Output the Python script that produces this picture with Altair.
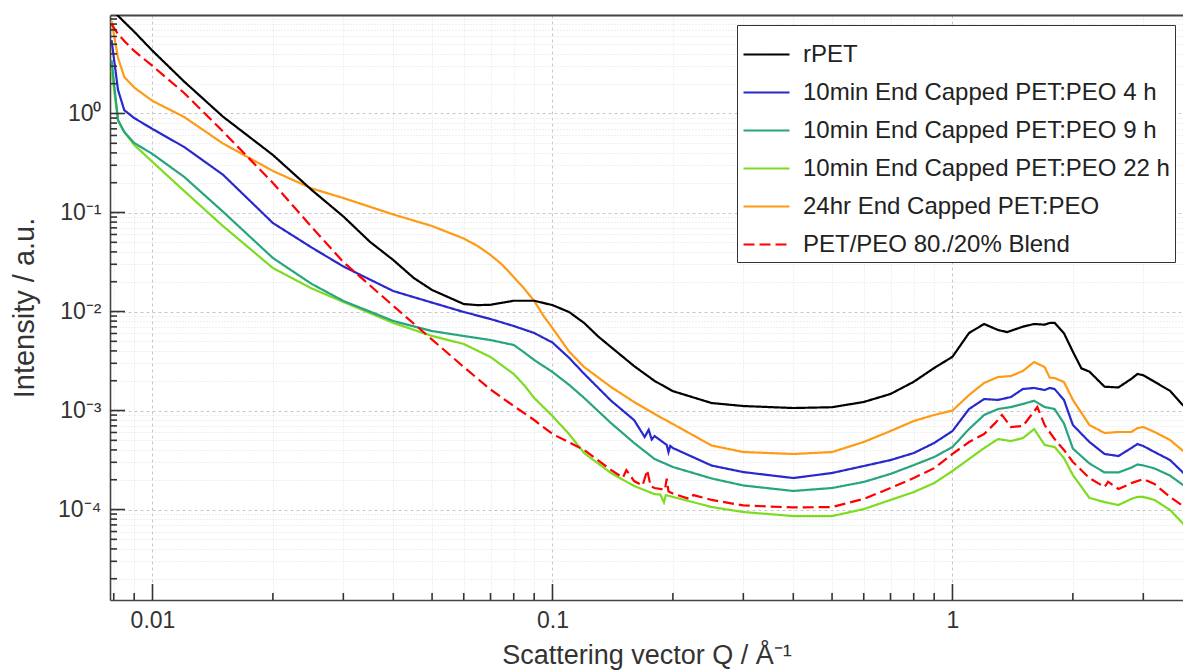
import altair as alt
import pandas as pd

SERIES = [
    "rPET",
    "10min End Capped PET:PEO 4 h",
    "10min End Capped PET:PEO 9 h",
    "10min End Capped PET:PEO 22 h",
    "24hr End Capped PET:PEO",
    "PET/PEO 80./20% Blend",
]
COLORS = ["#000000", "#2828cc", "#28a47f", "#7ddc1f", "#ff9a14", "#ff0000"]
DASHES = [[1, 0], [1, 0], [1, 0], [1, 0], [1, 0], [11, 5]]
WIDTHS = [2.2, 2.2, 2.2, 2.2, 2.2, 3.4]

# Q values (1/Angstrom)
q_black = [0.0079, 0.0082, 0.0085, 0.009, 0.01, 0.012, 0.015, 0.02, 0.025, 0.03,
           0.035, 0.04, 0.045, 0.05, 0.06, 0.065, 0.07, 0.08, 0.09, 0.1,
           0.11, 0.12, 0.13, 0.14, 0.16, 0.18, 0.2, 0.25, 0.3, 0.4,
           0.5, 0.6, 0.7, 0.8, 0.9, 1.0, 1.1, 1.2, 1.3, 1.37,
           1.5, 1.6, 1.7, 1.75, 1.8, 1.9, 2.0, 2.1, 2.2, 2.4,
           2.6, 2.8, 2.9, 3.0, 3.2, 3.5, 3.8]
i_black = [11.1, 9.7, 8.4, 6.7, 4.3, 2.1, 0.93, 0.381, 0.169, 0.0912,
           0.0504, 0.0331, 0.0218, 0.0165, 0.0119, 0.0116, 0.0117, 0.01285, 0.01285, 0.0116,
           0.00989, 0.00766, 0.00561, 0.00438, 0.00281, 0.00199, 0.00157, 0.00119, 0.00111, 0.00106,
           0.00108, 0.00122, 0.00147, 0.00195, 0.00269, 0.00349, 0.00607, 0.00748, 0.0065, 0.0062,
           0.00703, 0.00748, 0.00736, 0.00766, 0.0077, 0.00603, 0.00393, 0.00267, 0.00247, 0.00174,
           0.00171, 0.00209, 0.00234, 0.00227, 0.00195, 0.00158, 0.00109]

q_common = [0.0079, 0.0082, 0.0085, 0.009, 0.01, 0.012, 0.015, 0.02, 0.025, 0.03,
            0.04, 0.05, 0.06, 0.07, 0.08, 0.09, 0.1, 0.12, 0.14, 0.16,
            0.18, 0.2, 0.25, 0.3, 0.4, 0.5, 0.6, 0.7, 0.8, 0.9,
            1.0, 1.1, 1.2, 1.3, 1.4, 1.5, 1.6, 1.7, 1.75, 1.8,
            1.9, 2.0, 2.2, 2.4, 2.6, 2.8, 2.9, 3.0, 3.2, 3.5, 3.8]
i_4h = [5.5, 1.73, 1.08, 0.90, 0.697, 0.459, 0.241, 0.0783, 0.0443, 0.0285,
        0.0161, 0.0123, 0.00989, 0.0084, 0.00714, 0.00607, 0.00486, 0.00235, 0.00126, 0.0008,
        0.000552, 0.000418, 0.000278, 0.000239, 0.000208, 0.000234, 0.000275, 0.000316, 0.000372, 0.00047,
        0.000621, 0.001035, 0.001306, 0.00128, 0.001368, 0.00165, 0.00169, 0.00161, 0.00169, 0.00165,
        0.00128, 0.000714, 0.000481, 0.000364, 0.000347, 0.000418, 0.000459, 0.000438, 0.000381, 0.000316, 0.000229]
i_9h = [3.47, 0.86, 0.65, 0.504, 0.39, 0.229, 0.102, 0.0347, 0.019, 0.0128,
        0.00802, 0.00635, 0.00566, 0.00515, 0.00459, 0.00324, 0.00245, 0.00134, 0.000748, 0.00047,
        0.000324, 0.000269, 0.000206, 0.000175, 0.000154, 0.000165, 0.00019, 0.000229, 0.000281, 0.000339,
        0.000428, 0.00065, 0.000902, 0.001035, 0.001084, 0.001164, 0.001256, 0.001084, 0.00106, 0.001035,
        0.00074, 0.000413, 0.000292, 0.000237, 0.000237, 0.000265, 0.000285, 0.000279, 0.00026, 0.00022, 0.000173]
i_22h = [2.75, 0.84, 0.65, 0.481, 0.324, 0.165, 0.073, 0.0275, 0.0171, 0.0125,
         0.00766, 0.00566, 0.0047, 0.00347, 0.00234, 0.00134, 0.00088, 0.000372, 0.000234, 0.000173,
         0.000143, 0.000134, 0.000106, 0.0000944, 0.0000859, 0.0000859, 0.000101, 0.000125, 0.00015, 0.000185,
         0.000245, 0.000324, 0.000418, 0.000515, 0.000492, 0.000527, 0.00065, 0.000449, 0.000438, 0.000428,
         0.000331, 0.000223, 0.000131, 0.000119, 0.000111, 0.000128, 0.000134, 0.000134, 0.000125, 0.0000989, 0.0000697]
i_24hr = [8.6, 3.64, 2.34, 1.83, 1.34, 0.922, 0.498, 0.263, 0.175, 0.14,
          0.0955, 0.073, 0.0546, 0.0372, 0.0223, 0.0128, 0.00681, 0.00275, 0.00173, 0.00122,
          0.000923, 0.000731, 0.000443, 0.000381, 0.000364, 0.000381, 0.000481, 0.000621, 0.000783, 0.000902,
          0.001, 0.001435, 0.0019, 0.00218, 0.00223, 0.00251, 0.00309, 0.00275, 0.00215, 0.00213,
          0.00194, 0.00128, 0.000714, 0.000593, 0.000607, 0.000607, 0.000665, 0.000681, 0.000607, 0.000504, 0.000381]

q_blend = [0.0079, 0.0082, 0.0085, 0.009, 0.01, 0.012, 0.015, 0.02, 0.025, 0.03,
           0.04, 0.05, 0.06, 0.07, 0.08, 0.09, 0.1, 0.12, 0.14, 0.16,
           0.18, 0.2, 0.25, 0.3, 0.4, 0.5, 0.6, 0.7, 0.8, 0.9,
           1.0, 1.1, 1.2, 1.28, 1.33, 1.4, 1.5, 1.63, 1.7, 1.8,
           1.9, 2.0, 2.2, 2.4, 2.45, 2.6, 2.8, 3.0, 3.2, 3.5, 3.8]
i_blend = [8.0, 6.35, 5.4, 4.28, 3.02, 1.61, 0.658, 0.199, 0.0714, 0.0316,
           0.0114, 0.00521, 0.00275, 0.00163, 0.00111, 0.000802, 0.000579, 0.0004, 0.000251, 0.000194,
           0.000165, 0.000145, 0.000125, 0.00011, 0.000105, 0.000106, 0.000128, 0.000165, 0.000208, 0.000262,
           0.000364, 0.000481, 0.000579, 0.00075, 0.000902, 0.000681, 0.000697, 0.001084, 0.000714, 0.000515,
           0.000399, 0.000302, 0.000208, 0.000169, 0.000191, 0.000161, 0.000185, 0.000203, 0.000181, 0.000134, 0.000106]

# extra points: knees and noisy stretches
q_extra_4h = [0.11, 0.13, 0.170, 0.174, 0.177, 0.193, 0.195, 0.197]
i_extra_4h = [0.00341, 0.0017, 0.00054, 0.00064, 0.00051, 0.00045, 0.00038, 0.00044]
q_extra_9h = [0.085, 0.11]
i_extra_9h = [0.00386, 0.00182]
q_extra_22h = [0.085, 0.11, 0.186, 0.190, 0.192]
i_extra_22h = [0.0018, 0.000579, 0.000142, 0.000118, 0.000140]
q_extra_24hr = [0.065, 0.075, 0.085, 0.095, 0.11]
i_extra_24hr = [0.0459, 0.0295, 0.017, 0.00901, 0.00395]
q_extra_blend = [0.150, 0.153, 0.168, 0.1725, 0.176, 0.191, 0.193, 0.195, 0.22, 0.225]
i_extra_blend = [0.00021, 0.00025, 0.000175, 0.00025, 0.000172, 0.000158, 0.000205, 0.000152, 0.000128, 0.000140]

# axis tick values
X_MAJOR = [0.01, 0.1, 1]
X_MINOR = [0.008, 0.009, 0.02, 0.03, 0.04, 0.05, 0.06, 0.07, 0.08, 0.09,
           0.2, 0.3, 0.4, 0.5, 0.6, 0.7, 0.8, 0.9, 2, 3]
Y_MAJOR = [1e-4, 1e-3, 1e-2, 1e-1, 1]
Y_MINOR = [m * 10.0 ** e for e in range(-5, 1) for m in range(2, 10)]

rows = []
for name, qs, vals in [
    (SERIES[0], q_black, i_black),
    (SERIES[1], q_common + q_extra_4h, i_4h + i_extra_4h),
    (SERIES[2], q_common + q_extra_9h, i_9h + i_extra_9h),
    (SERIES[3], q_common + q_extra_22h, i_22h + i_extra_22h),
    (SERIES[4], q_common + q_extra_24hr, i_24hr + i_extra_24hr),
    (SERIES[5], q_blend + q_extra_blend, i_blend + i_extra_blend),
]:
    for q, v in zip(qs, vals):
        rows.append({"series": name, "Q": q, "I": v})
df = pd.DataFrame(rows).sort_values(["series", "Q"])

W, H = 1073, 585
FONT = "Liberation Sans"
TXT = "#333333"
xscale = alt.Scale(type="log", domain=[0.00783, 3.77], nice=False)
yscale = alt.Scale(type="log", domain=[1.22e-5, 9.88], nice=False)

MAJOR = "abs(log(datum.value)/LN10 - round(log(datum.value)/LN10)) < 1e-6"
E = "round(log(datum.value)/LN10)"
sup = ("(" + E + "==0 ? '⁰' : " + E + "==1 ? '¹' : " + E + "==-1 ? '⁻¹' : "
       + E + "==-2 ? '⁻²' : " + E + "==-3 ? '⁻³' : " + E + "==-4 ? '⁻⁴' : '⁻⁵')")
y_label = MAJOR + " ? ('10' + " + sup + ") : ''"
x_label = MAJOR + " ? format(datum.value, '~g') : ''"

grid_color = {"condition": {"test": MAJOR, "value": "#c4c8cc"}, "value": "#dfe1e3"}
grid_dash = {"condition": {"test": MAJOR, "value": [3, 3]}, "value": [1, 2]}

lines = alt.Chart(df).mark_line(clip=True).encode(
    x=alt.X("Q:Q", scale=xscale, axis=alt.Axis(
        values=X_MAJOR + X_MINOR, labelExpr=x_label, ticks=False, grid=True,
        gridColor=grid_color, gridDash=grid_dash, gridWidth=1,
        domainColor="#444", domainWidth=1.6, labelFontSize=23, labelColor=TXT,
        labelFont=FONT, labelPadding=9, labelOverlap=False, labelFlush=False,
        title="Scattering vector Q / Å⁻¹", titleFont=FONT, titleFontSize=27,
        titleFontWeight="normal", titleColor=TXT, titlePadding=10)),
    y=alt.Y("I:Q", scale=yscale, axis=alt.Axis(
        values=Y_MAJOR + Y_MINOR, labelExpr=y_label, ticks=False, grid=True,
        gridColor=grid_color, gridDash=grid_dash, gridWidth=1,
        domainColor="#444", domainWidth=1.6, labelFontSize=23, labelColor=TXT,
        labelFont=FONT, labelPadding=9, labelOverlap=False, labelFlush=False,
        title="Intensity / a.u.", titleFont=FONT, titleFontSize=29,
        titleFontWeight="normal", titleColor=TXT, titlePadding=18)),
    color=alt.Color("series:N", scale=alt.Scale(domain=SERIES, range=COLORS),
                    sort=SERIES, legend=alt.Legend(title=None)),
    strokeDash=alt.StrokeDash("series:N", scale=alt.Scale(domain=SERIES, range=DASHES),
                              sort=SERIES, legend=alt.Legend(title=None)),
    strokeWidth=alt.StrokeWidth("series:N", scale=alt.Scale(domain=SERIES, range=WIDTHS),
                                sort=SERIES, legend=alt.Legend(title=None)),
)


def x_ticks(vals, size):
    return alt.Chart(pd.DataFrame({"tick": vals})).mark_rule(
        color="#333", strokeWidth=1.6).encode(
        x=alt.X("tick:Q", scale=xscale, axis=None),
        y=alt.value(H), y2=alt.value(H - size))


def y_ticks(vals, size):
    return alt.Chart(pd.DataFrame({"tick": vals})).mark_rule(
        color="#333", strokeWidth=1.6).encode(
        y=alt.Y("tick:Q", scale=yscale, axis=None),
        x=alt.value(0), x2=alt.value(size))


border = alt.Chart(df).mark_point(opacity=0, size=1).encode(
    x=alt.X("Q:Q", scale=xscale, axis=alt.Axis(
        orient="top", values=[], labels=False, ticks=False, grid=False,
        domain=True, domainColor="#444", domainWidth=2, title=None)),
    y=alt.Y("I:Q", scale=yscale, axis=None),
)

chart = alt.layer(
    lines,
    x_ticks(X_MAJOR, 16), x_ticks(X_MINOR, 7),
    y_ticks(Y_MAJOR, 15), y_ticks(Y_MINOR, 7),
    border,
).resolve_axis(x="independent", y="independent").properties(
    width=W, height=H,
    background="white",
    autosize=alt.AutoSizeParams(type="none"),
    padding={"left": 110, "top": 15, "right": 0, "bottom": 71},
).configure_view(stroke=None).configure_legend(
    orient="none", legendX=627, legendY=10, fillColor="white",
    strokeColor="#333", strokeWidth=1, padding=5,
    labelFont=FONT, labelFontSize=24, labelColor="#222", labelLimit=0,
    symbolType="stroke", symbolSize=2116,
    rowPadding=1, labelOffset=12, cornerRadius=0,
)

chart.save("out.html", embed_options={"renderer": "svg", "actions": False})
